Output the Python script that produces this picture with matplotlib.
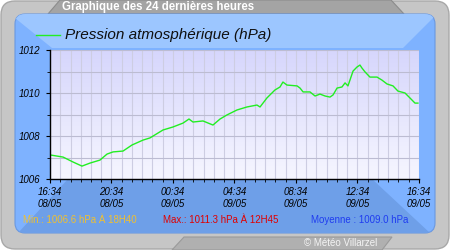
import numpy as np
import matplotlib
matplotlib.use("Agg")
import matplotlib.pyplot as plt
from matplotlib.patches import FancyBboxPatch, Polygon
from matplotlib.colors import LinearSegmentedColormap

# heures depuis 16:34 le 08/05, pression en hPa
heures = [0.00, 0.85, 1.50, 2.08, 2.60, 3.25, 3.71, 4.10, 4.75, 5.33,
          6.05, 6.50, 7.35, 8.00, 8.65, 9.04, 9.30, 9.95, 10.60, 11.06,
          11.51, 12.16, 12.81, 13.46, 13.66, 14.11, 14.63, 14.96, 15.15, 15.41,
          16.07, 16.26, 16.46, 16.91, 17.24, 17.56, 17.89, 18.21, 18.41, 18.67,
          18.99, 19.19, 19.38, 19.71, 19.97, 20.16, 20.29, 20.49, 20.81, 21.27,
          21.59, 21.92, 22.31, 22.63, 23.09, 23.41, 23.74, 23.93]
pression = [1007.12, 1007.02, 1006.79, 1006.60, 1006.74, 1006.88, 1007.16, 1007.26, 1007.30, 1007.58,
            1007.81, 1007.91, 1008.28, 1008.42, 1008.60, 1008.79, 1008.65, 1008.70, 1008.51, 1008.79,
            1008.98, 1009.21, 1009.35, 1009.44, 1009.35, 1009.77, 1010.14, 1010.28, 1010.51, 1010.37,
            1010.33, 1010.23, 1010.05, 1010.05, 1009.86, 1009.95, 1009.86, 1009.81, 1009.91, 1010.23,
            1010.28, 1010.47, 1010.33, 1011.02, 1011.21, 1011.30, 1011.16, 1010.98, 1010.74, 1010.74,
            1010.60, 1010.42, 1010.33, 1010.09, 1010.00, 1009.77, 1009.53, 1009.53]

x_ticks = [0, 4, 8, 12, 16, 20, 24]
x_labels = ["16:34\n08/05", "20:34\n08/05", "00:34\n09/05", "04:34\n09/05",
            "08:34\n09/05", "12:34\n09/05", "16:34\n09/05"]
y_ticks = [1006, 1008, 1010, 1012]

titre = "Graphique des 24 dernières heures"
legende = "Pression atmosphérique (hPa)"
txt_min = "Min.: 1006.6 hPa À 18H40"
txt_max = "Max.: 1011.3 hPa À 12H45"
txt_moy = "Moyenne : 1009.0 hPa"
copyright = "© Météo Villarzel"

plt.rcParams['font.family'] = ['Liberation Sans', 'DejaVu Sans']

fig = plt.figure(figsize=(4.5, 2.5), dpi=100)
fig.patch.set_facecolor("white")

# fond : cadre gris + panneau bleu (coordonnees en pixels)
bg = fig.add_axes([0, 0, 1, 1], zorder=0)
bg.set_xlim(0, 450)
bg.set_ylim(250, 0)
bg.axis("off")

bg.add_patch(FancyBboxPatch((1, 1), 448, 248, boxstyle="round,pad=0,rounding_size=14",
                            fc="#c6c6c6", ec="#a8a8a8", lw=1))
bg.add_patch(Polygon([(48, 14), (60, 0), (391, 0), (404, 14)], closed=True,
                     fc="#a4a4a4", ec="#8c8c8c", lw=0.8))
bg.add_patch(Polygon([(172, 250), (184, 237), (392, 237), (382, 250)], closed=True,
                     fc="#b0b0b0", ec="#9a9a9a", lw=0.8))

panel = FancyBboxPatch((15, 14), 420, 219, boxstyle="round,pad=0,rounding_size=10",
                       fc="#7eb2ff", ec="#6a98e0", lw=0.8)
bg.add_patch(panel)
haut = Polygon([(15, 14), (435, 14), (435, 16), (403, 48), (52, 48), (15, 18)],
               closed=True, fc="#9cc6ff", ec="none")
bas = Polygon([(68, 179), (372, 179), (430, 233), (18, 233)], closed=True,
              fc="#6e9fe8", ec="none")
for p in (haut, bas):
    bg.add_patch(p)
    p.set_clip_path(panel)

bg.text(62, 7, titre, color="white", fontsize=8.3, fontweight="bold", va="center", ha="left")
bg.text(341, 243.5, copyright, color="#f4f4f4", fontsize=7, va="center", ha="center")

bg.text(23, 220, txt_min, color="#f0c030", fontsize=7, va="center")
bg.text(163, 220, txt_max, color="#e00000", fontsize=7, va="center")
bg.text(311, 220, txt_moy, color="#1f3cf0", fontsize=7, va="center")

# legende
bg.plot([36, 60], [35, 35], color="#22ee22", lw=1)
bg.text(65, 35, legende, fontsize=11, style="italic", va="center", color="#101010")

# graphique
ax = fig.add_axes([50 / 450, 71 / 250, 369 / 450, 129 / 250], zorder=1)
ax.patch.set_visible(False)
cmap = LinearSegmentedColormap.from_list("fond", ["#d6d6fc", "#f6f6ff"])
ax.imshow(np.linspace(0, 1, 100).reshape(-1, 1), cmap=cmap, aspect="auto",
          extent=[0, 24, 1006, 1012], zorder=0)

ax.plot(heures, pression, color="#22ee22", lw=1, zorder=3)

ax.set_xlim(0, 24)
ax.set_ylim(1006, 1012)
ax.set_xticks(x_ticks)
ax.set_xticklabels(x_labels, fontsize=7, style="italic", linespacing=1.25)
ax.set_xticks(np.arange(0, 24.01, 2 / 3), minor=True)
ax.set_yticks(y_ticks)
ax.set_yticklabels([str(v) for v in y_ticks], fontsize=7, style="italic")
ax.set_yticks([1007, 1009, 1011], minor=True)

ax.grid(which="both", axis="x", color="#cdcde2", lw=0.8, zorder=1)
ax.grid(which="both", axis="y", color="#bcbcd2", lw=0.8, zorder=1)
ax.set_axisbelow(False)

for s in ("top", "right"):
    ax.spines[s].set_visible(False)
for s in ("left", "bottom"):
    ax.spines[s].set_color("black")
    ax.spines[s].set_linewidth(1)
    ax.spines[s].set_zorder(4)

ax.tick_params(which="major", length=3, width=0.8, pad=4, colors="black")
ax.tick_params(which="minor", length=2, width=0.6, colors="black")
ax.tick_params(axis="x", which="major", pad=3)

fig.savefig("out.png", dpi=100)
